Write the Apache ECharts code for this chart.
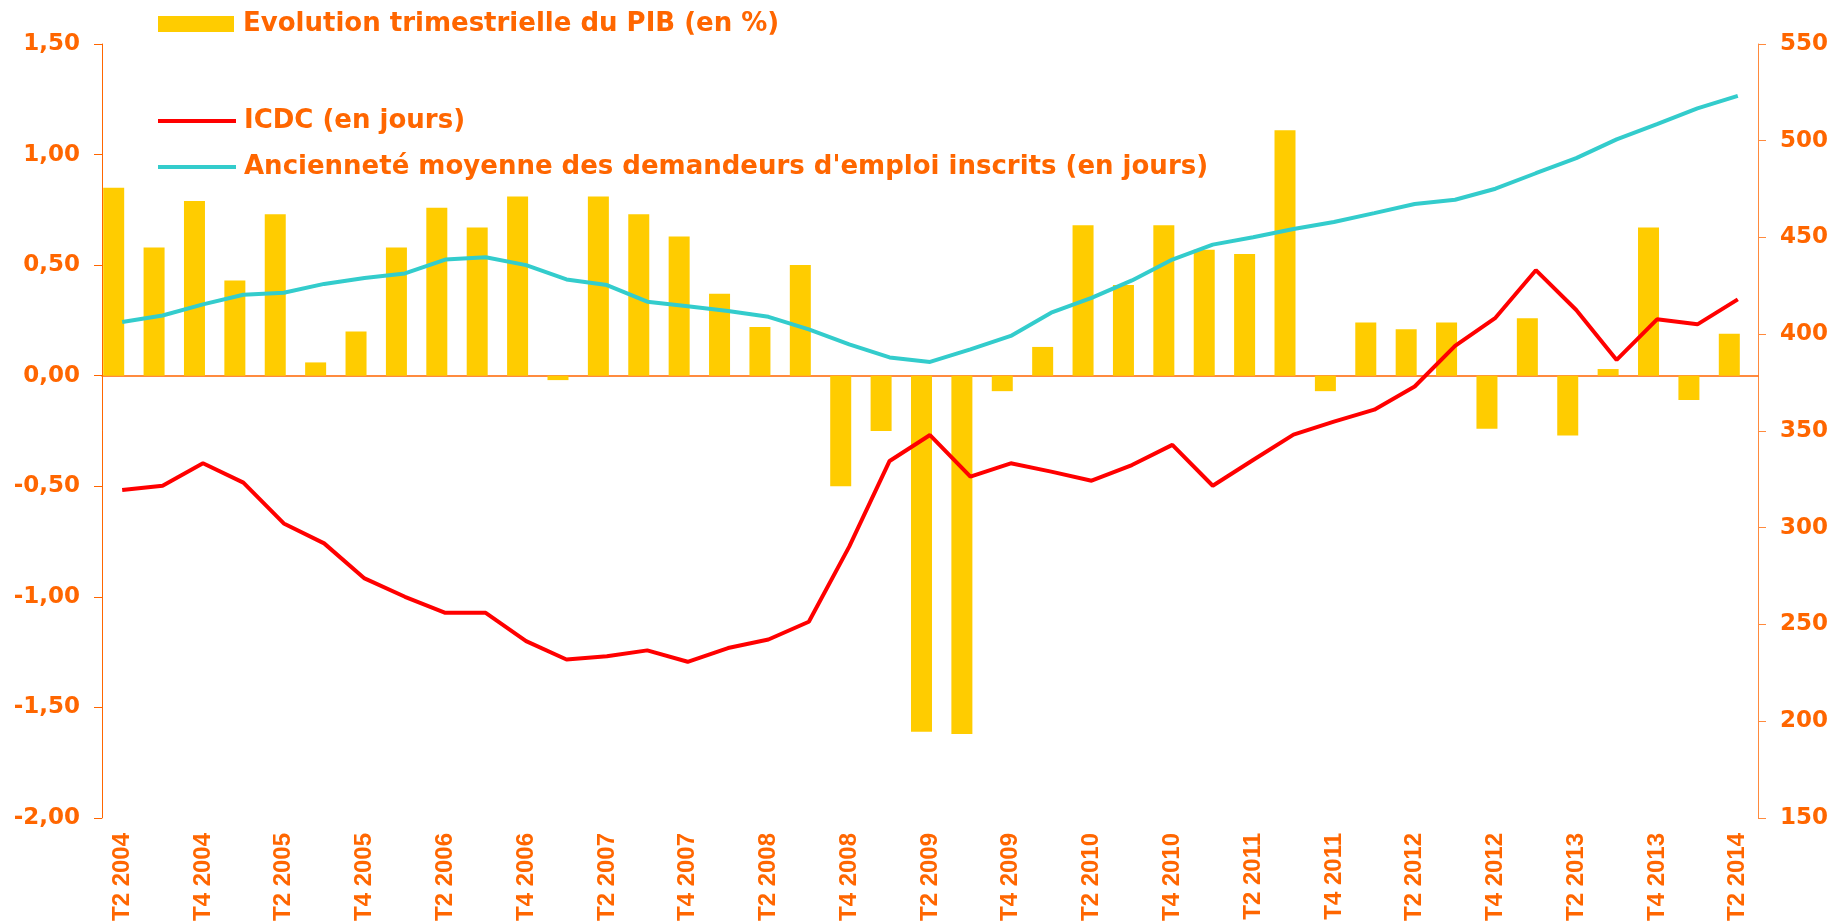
<!DOCTYPE html>
<html>
<head>
<meta charset="utf-8">
<title>PIB, ICDC et ancienneté</title>
<script src="https://cdn.jsdelivr.net/npm/echarts@6/dist/echarts.min.js"></script>
<style>
  html, body { margin: 0; padding: 0; background: #fff; }
  #chart { width: 1833px; height: 924px; }
</style>
</head>
<body>
<div id="chart"></div>
<script>
// trimestres
const quarters = [
  'T2 2004', 'T3 2004', 'T4 2004', 'T1 2005', 'T2 2005', 'T3 2005', 'T4 2005', 'T1 2006',
  'T2 2006', 'T3 2006', 'T4 2006', 'T1 2007', 'T2 2007', 'T3 2007', 'T4 2007', 'T1 2008',
  'T2 2008', 'T3 2008', 'T4 2008', 'T1 2009', 'T2 2009', 'T3 2009', 'T4 2009', 'T1 2010',
  'T2 2010', 'T3 2010', 'T4 2010', 'T1 2011', 'T2 2011', 'T3 2011', 'T4 2011', 'T1 2012',
  'T2 2012', 'T3 2012', 'T4 2012', 'T1 2013', 'T2 2013', 'T3 2013', 'T4 2013', 'T1 2014',
  'T2 2014'
]
// évolution trimestrielle du PIB (%) - axe gauche
const pib = [
  0.85, 0.58, 0.79, 0.43, 0.73, 0.06, 0.20, 0.58, 0.76, 0.67, 0.81, -0.02, 0.81, 0.73,
  0.63, 0.37, 0.22, 0.50, -0.50, -0.25, -1.61, -1.62, -0.07, 0.13, 0.68, 0.41, 0.68,
  0.57, 0.55, 1.11, -0.07, 0.24, 0.21, 0.24, -0.24, 0.26, -0.27, 0.03, 0.67, -0.11, 0.19
]
// ICDC en jours - axe droit
const icdc = [
  319.5, 321.7, 333.3, 323.3, 302.2, 291.9, 273.8, 264.3, 256, 256, 241.4, 231.9, 233.6,
  236.6, 230.7, 237.8, 242.2, 251.4, 290.2, 334.5, 347.9, 326.4, 333.3, 329, 324.3, 332.4,
  342.8, 321.7, 335, 348.1, 354.8, 361, 373, 394, 408.5, 433.1, 412.5, 386.7, 407.7, 405.1,
  418
]
// ancienneté moyenne en jours - axe droit
const anciennete = [
  406.3, 409.7, 415.4, 420.4, 421.4, 426, 429.1, 431.4, 438.6, 439.8, 435.7, 428.3, 425.4,
  416.8, 414.5, 412, 409, 402.5, 394.8, 388, 385.7, 392.2, 399.1, 411.1, 418.8, 427.8,
  438.6, 446.3, 450.1, 454.4, 458, 462.6, 467.3, 469.5, 475.2, 483.2, 491, 500.7, 508.6,
  516.7, 523.2
]

const names = [
  'Evolution trimestrielle du PIB (en %)',
  'ICDC (en jours)',
  "Ancienneté moyenne des demandeurs d'emploi inscrits (en jours)"
]

const orange = '#FF6600'
const wideFont = { color: orange, fontFamily: 'DejaVu Sans', fontWeight: 'bold' }

const chart = echarts.init(document.getElementById('chart'))

const option = {
  animation: false,
  grid: { left: 102, right: 75, top: 44, bottom: 106 },
  legend: [
    {
      data: [names[0]],
      left: 153,
      top: 4,
      icon: 'rect',
      itemWidth: 76,
      itemHeight: 16,
      textStyle: Object.assign({ fontSize: 26, lineHeight: 30, padding: [0, 0, 0, 4] }, wideFont)
    },
    {
      data: [names[1], names[2]],
      orient: 'vertical',
      left: 153,
      top: 101,
      itemGap: 16,
      icon: 'rect',
      itemWidth: 78,
      itemHeight: 4,
      textStyle: Object.assign({ fontSize: 26, lineHeight: 30, padding: [0, 0, 0, 3] }, wideFont)
    }
  ],
  xAxis: [
    {
      // étiquettes en bas
      type: 'category',
      data: quarters,
      position: 'bottom',
      axisLine: { show: false, onZero: false },
      axisTick: { show: false },
      axisLabel: {
        rotate: 90,
        interval: 1,
        margin: 15,
        color: orange,
        fontFamily: 'Liberation Sans',
        fontWeight: 'bold',
        fontSize: 24
      }
    },
    {
      // ligne du zéro avec graduations
      type: 'category',
      data: quarters,
      position: 'top',
      axisLine: { onZero: true, onZeroAxisIndex: 0, lineStyle: { color: orange, width: 1.5 } },
      axisTick: { length: 7, lineStyle: { color: orange } },
      axisLabel: { show: false }
    }
  ],
  yAxis: [
    {
      type: 'value',
      min: -2,
      max: 1.5,
      interval: 0.5,
      splitLine: { show: false },
      axisLine: { show: true, lineStyle: { color: orange } },
      axisTick: { show: true, length: 8, lineStyle: { color: orange } },
      axisLabel: Object.assign({
        fontSize: 23,
        margin: 22,
        formatter: v => v.toFixed(2).replace('.', ',')
      }, wideFont)
    },
    {
      type: 'value',
      position: 'right',
      min: 150,
      max: 550,
      interval: 50,
      splitLine: { show: false },
      axisLine: { show: true, lineStyle: { color: '#FF8A3D' } },
      axisTick: { show: true, length: 8, lineStyle: { color: '#FF8A3D' } },
      axisLabel: Object.assign({ fontSize: 23, margin: 22 }, wideFont)
    }
  ],
  series: [
    {
      name: names[0],
      type: 'bar',
      data: pib,
      barWidth: 21,
      barGap: '-19%',
      itemStyle: { color: '#FFCC00' }
    },
    {
      // série vide : décale les barres vers la gauche comme dans Excel
      name: 'vide',
      type: 'bar',
      data: [],
      barWidth: 21
    },
    {
      name: names[1],
      type: 'line',
      yAxisIndex: 1,
      data: icdc,
      symbol: 'none',
      lineStyle: { color: '#FF0000', width: 4 },
      itemStyle: { color: '#FF0000' },
      z: 4
    },
    {
      name: names[2],
      type: 'line',
      yAxisIndex: 1,
      data: anciennete,
      symbol: 'none',
      lineStyle: { color: '#33CCCC', width: 4 },
      itemStyle: { color: '#33CCCC' },
      z: 3
    }
  ]
}

chart.setOption(option)
</script>
</body>
</html>
